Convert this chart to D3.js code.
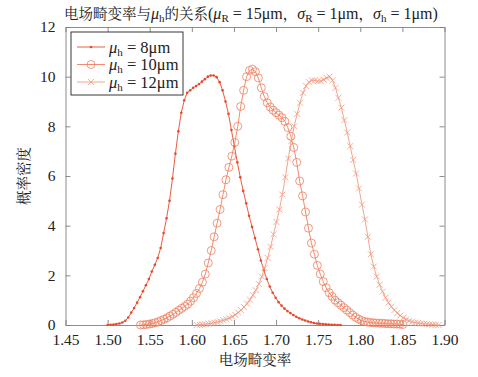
<!DOCTYPE html>
<html>
<head>
<meta charset="utf-8">
<script src="https://cdn.jsdelivr.net/npm/d3@7"></script>
<style>
  body { margin: 0; background: #fff; }
  svg { display: block; }
</style>
</head>
<body>
<svg></svg>
<script>
// density estimates of the field distortion rate, sampled on equal bins
var binWidth = 0.0035;

var start8 = 1.500;
var density8 = [
  0.00, 0.01, 0.02, 0.04, 0.06, 0.10, 0.17, 0.30, 0.50, 0.68,
  0.90, 1.12, 1.36, 1.60, 1.85, 2.15, 2.42, 2.70, 3.10, 3.70,
  4.30, 5.00, 5.90, 6.90, 7.80, 8.55, 9.05, 9.35, 9.45, 9.55,
  9.62, 9.70, 9.80, 9.90, 10.00, 10.05, 10.05, 9.98, 9.78, 9.45,
  9.00, 8.50, 7.85, 7.20, 6.55, 5.95, 5.40, 4.90, 4.40, 3.95,
  3.50, 3.05, 2.60, 2.20, 1.85, 1.55, 1.30, 1.10, 0.92, 0.78,
  0.66, 0.56, 0.48, 0.40, 0.33, 0.27, 0.22, 0.18, 0.14, 0.11,
  0.08, 0.06, 0.05, 0.04, 0.03, 0.02, 0.01, 0.01, 0.00, 0.00
];

var start10 = 1.539;
var density10 = [
  0.00, 0.01, 0.02, 0.04, 0.06, 0.09, 0.13, 0.18, 0.23, 0.29,
  0.36, 0.43, 0.51, 0.59, 0.67, 0.75, 0.84, 0.96, 1.10, 1.27,
  1.47, 1.72, 2.05, 2.50, 3.00, 3.55, 4.10, 4.65, 5.25, 5.85,
  6.35, 6.80, 7.35, 8.00, 8.80, 9.45, 10.00, 10.25, 10.30, 10.20,
  9.95, 9.55, 9.20, 8.95, 8.78, 8.65, 8.55, 8.45, 8.35, 8.20,
  7.95, 7.60, 7.15, 6.55, 5.80, 5.20, 4.55, 3.90, 3.30, 2.85,
  2.40, 2.05, 1.75, 1.50, 1.30, 1.15, 1.00, 0.90, 0.80, 0.70,
  0.60, 0.50, 0.40, 0.31, 0.24, 0.18, 0.14, 0.12, 0.10, 0.09,
  0.08, 0.07, 0.07, 0.06, 0.05, 0.05, 0.04, 0.04, 0.03, 0.02
];

var start12 = 1.606;
var density12 = [
  0.00, 0.01, 0.02, 0.03, 0.05, 0.07, 0.09, 0.12, 0.15, 0.19,
  0.23, 0.28, 0.34, 0.41, 0.50, 0.60, 0.72, 0.86, 1.02, 1.20,
  1.40, 1.65, 1.95, 2.30, 2.70, 3.15, 3.65, 4.15, 4.65, 5.25,
  5.95, 6.70, 7.40, 8.00, 8.50, 8.95, 9.35, 9.62, 9.78, 9.85,
  9.85, 9.82, 9.82, 9.88, 9.95, 10.00, 9.85, 9.55, 9.15, 8.75,
  8.25, 7.75, 7.20, 6.65, 6.10, 5.50, 4.85, 4.25, 3.55, 2.85,
  2.35, 1.95, 1.62, 1.34, 1.10, 0.90, 0.74, 0.60, 0.48, 0.38,
  0.29, 0.22, 0.17, 0.13, 0.10, 0.08, 0.06, 0.05, 0.04, 0.03,
  0.02, 0.01, 0.00
];

var xTicks = [1.45, 1.50, 1.55, 1.60, 1.65, 1.70, 1.75, 1.80, 1.85, 1.90];
var yTicks = [0, 2, 4, 6, 8, 10, 12];
var legendValues = ["8", "10", "12"];

var width = 478;
var height = 377;
var margin = { left: 65.5, right: 33.5, top: 27, bottom: 52 };
var plotW = width - margin.left - margin.right;
var plotH = height - margin.top - margin.bottom;
var serifFont = "'Liberation Serif', 'Noto Serif CJK SC', serif";

var seriesList = [
  { label: legendValues[0], start: start8, values: density8, color: "#e8492b", marker: "dot" },
  { label: legendValues[1], start: start10, values: density10, color: "#ef7f60", marker: "circle" },
  { label: legendValues[2], start: start12, values: density12, color: "#f39a80", marker: "cross" }
];

var svg = d3.select("svg")
  .attr("width", width)
  .attr("height", height)
  .style("font-family", serifFont);

var x = d3.scaleLinear().domain([1.45, 1.90]).range([0, plotW]);
var y = d3.scaleLinear().domain([0, 12]).range([plotH, 0]);

var g = svg.append("g")
  .attr("transform", "translate(" + margin.left + "," + margin.top + ")");

// axes, ticks pointing inward, mirrored on top and right
function styleAxis(sel) {
  sel.attr("font-family", null).attr("font-size", null);
  sel.selectAll("path").attr("stroke", "#808080").attr("stroke-width", 0.9);
  sel.selectAll("line").attr("stroke", "#808080").attr("stroke-width", 0.9);
  sel.selectAll("text")
    .style("font-family", serifFont)
    .style("font-size", "15.5px")
    .attr("fill", "#222");
}

g.append("g")
  .attr("transform", "translate(0," + plotH + ")")
  .call(d3.axisBottom(x).tickValues(xTicks).tickFormat(d3.format(".2f")).tickSizeInner(-5).tickSizeOuter(0).tickPadding(9))
  .call(styleAxis);

g.append("g")
  .call(d3.axisTop(x).tickValues(xTicks).tickFormat("").tickSizeInner(-5).tickSizeOuter(0))
  .call(styleAxis);

g.append("g")
  .call(d3.axisLeft(y).tickValues(yTicks).tickFormat(d3.format("d")).tickSizeInner(-5).tickSizeOuter(0).tickPadding(10))
  .call(styleAxis);

g.append("g")
  .attr("transform", "translate(" + plotW + ",0)")
  .call(d3.axisRight(y).tickValues(yTicks).tickFormat("").tickSizeInner(-5).tickSizeOuter(0))
  .call(styleAxis);

g.selectAll(".domain").attr("fill", "none");

// curves
var line = d3.line()
  .x(d => x(d.x))
  .y(d => y(d.y));

function drawMarker(sel, kind, color) {
  if (kind === "dot") {
    sel.append("circle").attr("r", 1.3).attr("fill", color);
  } else if (kind === "circle") {
    sel.append("circle").attr("r", 4).attr("fill", "none").attr("stroke", color).attr("stroke-width", 0.8);
  } else {
    sel.append("path").attr("d", "M-3,-3L3,3M-3,3L3,-3").attr("stroke", color).attr("stroke-width", 0.8).attr("fill", "none");
  }
}

seriesList.forEach(function(s) {
  var pts = s.values.map((v, i) => ({ x: s.start + i * binWidth, y: v }));
  g.append("path")
    .datum(pts)
    .attr("d", line)
    .attr("fill", "none")
    .attr("stroke", s.color)
    .attr("stroke-width", 0.9);
  g.append("g")
    .selectAll("g")
    .data(pts)
    .join("g")
      .attr("transform", d => "translate(" + x(d.x) + "," + y(d.y) + ")")
      .each(function() { drawMarker(d3.select(this), s.marker, s.color); });
});

// legend
var legend = svg.append("g").attr("transform", "translate(71,32)");
legend.append("rect")
  .attr("width", 112)
  .attr("height", 63)
  .attr("fill", "#fff")
  .attr("stroke", "#222")
  .attr("stroke-width", 0.9);

seriesList.forEach(function(s, i) {
  var row = legend.append("g").attr("transform", "translate(0," + (15 + i * 17.5) + ")");
  row.append("line").attr("x1", 6).attr("x2", 34).attr("stroke", s.color).attr("stroke-width", 0.9);
  drawMarker(row.append("g").attr("transform", "translate(20,0)"), s.marker, s.color);
  var t = row.append("text").attr("x", 38).attr("y", 5.5).style("font-size", "16.5px").attr("fill", "#222");
  t.append("tspan").style("font-style", "italic").text("μ");
  t.append("tspan").attr("dy", 3).style("font-size", "11px").text("h");
  t.append("tspan").attr("dy", -3).text(" = " + s.label + "μm");
});

// title: Chinese parts a touch smaller than the Latin parts
var title = svg.append("text")
  .attr("x", 64)
  .attr("y", 19)
  .attr("fill", "#222")
  .style("font-size", "16px");
function addParts(textSel, parts) {
  parts.forEach(function(p) {
    var ts = textSel.append("tspan").text(p.t);
    if (p.cn) ts.style("font-size", "14.5px");
    if (p.i) ts.style("font-style", "italic");
    if (p.sub) ts.attr("dy", 3).style("font-size", "11px");
    if (p.back) ts.attr("dy", -3);
  });
}
addParts(title, [
  { t: "电场畸变率与", cn: true }, { t: "μ", i: true }, { t: "h", sub: true },
  { t: "的关系", cn: true, back: true }, { t: "(" }, { t: "μ", i: true }, { t: "R", sub: true },
  { t: " = 15μm", back: true }, { t: "，", cn: true }, { t: "σ", i: true }, { t: "R", sub: true },
  { t: " = 1μm", back: true }, { t: "，", cn: true }, { t: "σ", i: true }, { t: "h", sub: true },
  { t: " = 1μm)", back: true }
]);

// axis titles
svg.append("text")
  .attr("x", margin.left + plotW / 2)
  .attr("y", 365)
  .attr("text-anchor", "middle")
  .attr("fill", "#222")
  .style("font-size", "14.5px")
  .text("电场畸变率");

svg.append("text")
  .attr("transform", "translate(29," + (margin.top + plotH / 2) + ") rotate(-90)")
  .attr("text-anchor", "middle")
  .attr("fill", "#222")
  .style("font-size", "14.5px")
  .text("概率密度");
</script>
</body>
</html>
